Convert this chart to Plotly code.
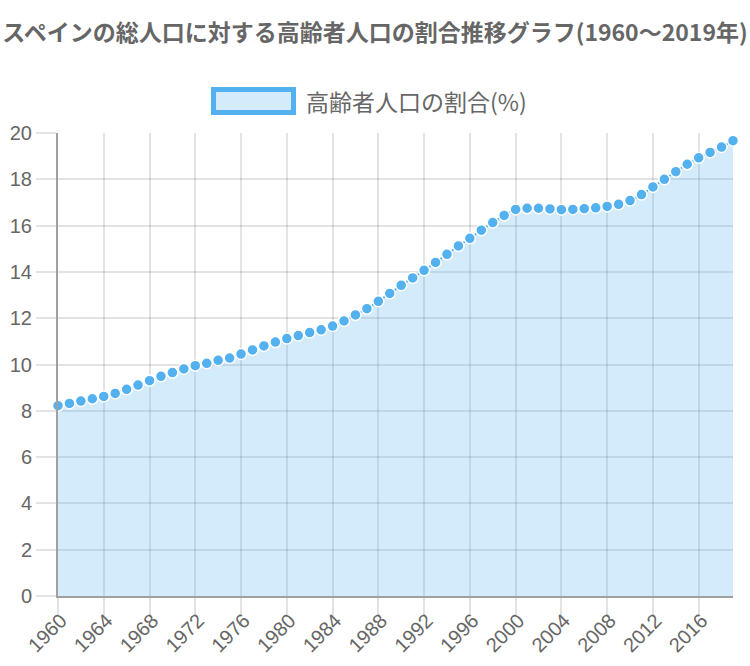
import plotly.graph_objects as go

years = list(range(1960, 2020))
elderly_share = [
    8.22, 8.32, 8.42, 8.52, 8.62, 8.75, 8.93, 9.11, 9.30, 9.49,
    9.65, 9.81, 9.95, 10.05, 10.18, 10.28, 10.45, 10.63, 10.80, 10.97,
    11.12, 11.25, 11.38, 11.50, 11.66, 11.88, 12.14, 12.41, 12.73, 13.07,
    13.42, 13.74, 14.07, 14.41, 14.76, 15.12, 15.45, 15.80, 16.13, 16.44,
    16.70, 16.75, 16.75, 16.72, 16.69, 16.70, 16.73, 16.77, 16.83, 16.92,
    17.08, 17.34, 17.67, 18.00, 18.33, 18.65, 18.93, 19.16, 19.39, 19.67,
]
x_ticks = list(range(1960, 2019, 4))
y_ticks = [0, 2, 4, 6, 8, 10, 12, 14, 16, 18, 20]
title_text = "スペインの総人口に対する高齢者人口の割合推移グラフ(1960～2019年)"
series_name = "高齢者人口の割合(%)"

BLUE = "rgb(83,177,240)"
FILL = "rgba(83,177,240,0.25)"
GRID = "rgba(0,0,0,0.11)"
AXIS = "#a0a0a0"
TXT = "#666666"
FONT = "Liberation Sans"
CJK = "Noto Sans CJK JP"

fig = go.Figure()
fig.add_trace(go.Scatter(
    x=years, y=elderly_share, name=series_name,
    mode="lines+markers", fill="tozeroy", fillcolor=FILL,
    line=dict(color=BLUE, width=2, shape="spline", smoothing=0.6),
    marker=dict(size=11, color=BLUE, line=dict(color="white", width=1.5)),
    showlegend=False, cliponaxis=False,
))

L, R, T, B = 58, 17, 133, 70
W, H = 750, 666
pw, ph = W - L - R, H - T - B

def px(x):
    return (x - L) / pw

def py(y):
    return (H - B - y) / ph

fig.add_shape(type="rect", xref="paper", yref="paper",
              x0=px(213.5), x1=px(293.5), y0=py(112.5), y1=py(89.5),
              line=dict(color=BLUE, width=5), fillcolor="rgba(83,177,240,0.25)")
fig.add_annotation(text=series_name, xref="paper", yref="paper",
                   x=px(304), y=py(101), xanchor="left", yanchor="middle",
                   showarrow=False,
                   font=dict(family=CJK, size=23, color=TXT))

fig.update_layout(
    width=W, height=H,
    margin=dict(l=L, r=R, t=T, b=B, pad=0, autoexpand=False),
    paper_bgcolor="white", plot_bgcolor="white",
    title=dict(text="<b>" + title_text + "</b>", xref="container", yref="container",
               x=0.5, xanchor="center", y=1 - 33 / H, yanchor="middle",
               font=dict(family=CJK, size=23, color=TXT)),
    font=dict(family=FONT, color=TXT),
    xaxis=dict(range=[1960, 2019], tickvals=x_ticks, ticktext=[str(v) for v in x_ticks],
               tickangle=-45, tickfont=dict(size=20, color=TXT, family=FONT),
               ticklabelstandoff=-15, ticklabelshift=3,
               showgrid=True, gridcolor=GRID, gridwidth=1.5, automargin=False,
               ticks="outside", ticklen=18, tickcolor=GRID, tickwidth=1.5,
               showline=True, linecolor=AXIS, linewidth=2, zeroline=False),
    yaxis=dict(range=[0, 20], tickvals=y_ticks, tickfont=dict(size=20, color=TXT, family=FONT),
               showgrid=True, gridcolor=GRID, gridwidth=1.5, automargin=False,
               ticks="outside", ticklen=20, tickcolor=GRID, tickwidth=1.5,
               showline=True, linecolor=AXIS, linewidth=2, zeroline=False),
)

fig.write_html(
    "out.html",
    config={"displayModeBar": False},
    post_script="document.body.style.margin='0';document.body.style.overflow='hidden';",
)
